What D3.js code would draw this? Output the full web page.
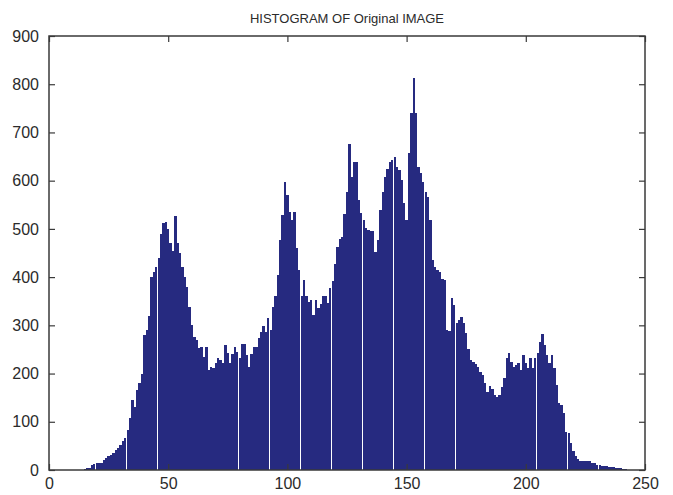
<!DOCTYPE html>
<html lang="en">
<head>
    <meta charset="UTF-8">
    <title>HISTOGRAM OF Original IMAGE</title>
    <script src="https://cdn.jsdelivr.net/npm/d3@7/dist/d3.min.js"></script>
    <style>
        body { margin: 0; background: #fff; }
        text { font-family: "Liberation Sans", Arial, sans-serif; fill: #2b2b2b; }
    </style>
</head>
<body>
    <div class="hist-container"></div>
</body>
<script>
    const title = 'HISTOGRAM OF Original IMAGE'
    // grey level counts, bins 0..255
    const counts = [
        0, 0, 0, 0, 0, 0, 0, 0, 0, 0, 0, 0, 0, 0, 1, 3,
        4, 5, 10, 12, 14, 14, 15, 20, 24, 28, 31, 36, 41, 46, 52, 60,
        66, 83, 107, 145, 131, 165, 181, 200, 280, 290, 320, 400, 410, 420, 440, 490,
        512, 515, 500, 470, 455, 527, 470, 449, 422, 400, 380, 339, 300, 275, 270, 252,
        255, 235, 255, 207, 214, 211, 222, 233, 228, 221, 259, 242, 221, 241, 255, 245,
        233, 262, 261, 238, 214, 240, 255, 255, 273, 287, 299, 287, 315, 290, 339, 360,
        404, 477, 528, 597, 570, 536, 519, 536, 460, 415, 360, 394, 360, 349, 353, 322,
        353, 336, 345, 360, 360, 346, 377, 391, 428, 463, 480, 484, 530, 577, 677, 608,
        639, 639, 560, 532, 518, 501, 497, 495, 495, 453, 477, 539, 577, 608, 625, 639,
        643, 650, 629, 622, 601, 553, 518, 657, 740, 812, 740, 629, 615, 598, 577, 567,
        518, 435, 421, 414, 411, 396, 394, 290, 288, 356, 342, 304, 311, 318, 304, 284,
        250, 228, 225, 220, 214, 204, 197, 180, 162, 174, 169, 156, 152, 156, 173, 190,
        232, 242, 225, 214, 218, 221, 207, 238, 221, 211, 232, 211, 232, 242, 266, 283,
        259, 238, 221, 238, 211, 176, 138, 135, 118, 79, 76, 55, 40, 30, 22, 19,
        18, 19, 19, 18, 15, 14, 11, 10, 9, 8, 8, 7, 6, 6, 5, 4,
        4, 3, 2, 0, 0, 0, 0, 0, 0, 0, 0, 0, 0, 0, 0, 0
    ]
    const bins = d3.range(counts.length)
    const xTicks = [0, 50, 100, 150, 200, 250]
    const yTicks = [0, 100, 200, 300, 400, 500, 600, 700, 800, 900]

    const width = 673
    const height = 495
    const padding = { top: 36, right: 28, bottom: 25, left: 49 }
    const barColor = '#262a80'
    const barFrac = 0.976

    const svg = d3.select('.hist-container')
        .append('svg')
        .attr('width', width)
        .attr('height', height)

    const xScale = d3.scaleLinear().domain([0, 250]).range([padding.left, width - padding.right])
    const yScale = d3.scaleLinear().domain([0, 900]).range([height - padding.bottom, padding.top])

    svg.append('clipPath').attr('id', 'plot-clip')
        .append('rect')
        .attr('x', padding.left).attr('y', padding.top)
        .attr('width', width - padding.left - padding.right)
        .attr('height', height - padding.top - padding.bottom)

    // bars
    svg.append('g')
        .attr('clip-path', 'url(#plot-clip)')
        .selectAll('rect')
        .data(bins)
        .enter()
        .append('rect')
        .attr('x', i => xScale(i - barFrac / 2))
        .attr('width', xScale(barFrac) - xScale(0))
        .attr('y', i => yScale(counts[i]))
        .attr('height', i => yScale(0) - yScale(counts[i]))
        .attr('fill', barColor)
        .attr('shape-rendering', 'crispEdges')

    // axes, matlab style: box with inward ticks on all sides
    const tickLen = 6
    const axisStyle = g => {
        g.select('.domain').remove()
        g.selectAll('line').attr('stroke', '#3a3a3a').attr('stroke-width', 1.2)
        g.selectAll('text').attr('font-size', '16px').attr('fill', '#2b2b2b')
    }
    svg.append('g')
        .attr('transform', `translate(0, ${height - padding.bottom})`)
        .call(d3.axisBottom(xScale).tickValues(xTicks).tickSizeInner(-tickLen).tickSizeOuter(0).tickPadding(8))
        .call(axisStyle)
    svg.append('g')
        .attr('transform', `translate(0, ${padding.top})`)
        .call(d3.axisTop(xScale).tickValues(xTicks).tickSizeInner(-tickLen).tickSizeOuter(0).tickFormat(''))
        .call(axisStyle)
    svg.append('g')
        .attr('transform', `translate(${padding.left}, 0)`)
        .call(d3.axisLeft(yScale).tickValues(yTicks).tickSizeInner(-tickLen).tickSizeOuter(0).tickPadding(10))
        .call(axisStyle)
    svg.append('g')
        .attr('transform', `translate(${width - padding.right}, 0)`)
        .call(d3.axisRight(yScale).tickValues(yTicks).tickSizeInner(-tickLen).tickSizeOuter(0).tickFormat(''))
        .call(axisStyle)

    // frame
    svg.append('rect')
        .attr('x', padding.left).attr('y', padding.top)
        .attr('width', width - padding.left - padding.right)
        .attr('height', height - padding.top - padding.bottom)
        .attr('fill', 'none')
        .attr('stroke', '#3a3a3a')
        .attr('stroke-width', 1.5)

    svg.append('text')
        .attr('x', (padding.left + width - padding.right) / 2)
        .attr('y', 23)
        .attr('text-anchor', 'middle')
        .attr('font-size', '13px')
        .text(title)
</script>
</html>
